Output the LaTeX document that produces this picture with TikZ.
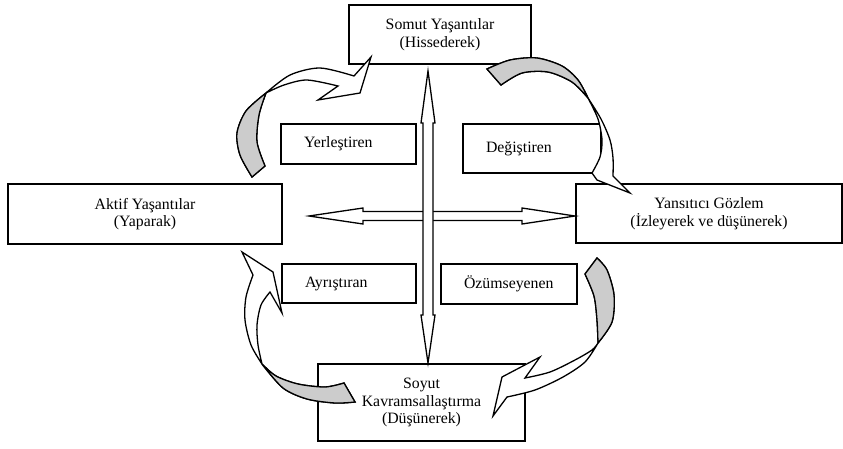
\documentclass[tikz,border=0pt]{standalone}
\usepackage{fontspec}
\setmainfont{Liberation Serif}
\usetikzlibrary{calc}
\definecolor{grayc}{RGB}{204,204,204}
\begin{document}
\begin{tikzpicture}[x=1pt,y=-1pt,
  bigbox/.style={draw, line width=1.5pt, align=center, inner sep=0pt, font=\fontsize{15.8}{17.5}\selectfont},
  smallbox/.style={draw, line width=1.5pt, align=left, inner ysep=0pt, inner xsep=23pt, font=\fontsize{15.8}{17.5}\selectfont},
  carrow/.style={line width=1.3pt, line join=miter, fill=white},
  garrow/.style={line width=1.3pt, line join=miter, fill=grayc},
  dbl/.style={line width=1.3pt, line join=miter, fill=white}
]
\useasboundingbox (0,0) rectangle (843,448);

% main boxes
\node[bigbox, minimum width=182pt, minimum height=59pt] (somut) at (440,34.5) {Somut Yaşantılar\\(Hissederek)};
\node[bigbox, minimum width=274pt, minimum height=60pt] (aktif) at (145,214) {Aktif Yaşantılar\\(Yaparak)};
\node[bigbox, minimum width=266pt, minimum height=59pt] (yans) at (709,213.5) {Yansıtıcı Gözlem\\(İzleyerek ve düşünerek)};
\node[bigbox, minimum width=207pt, minimum height=77pt] (soyut) at (421.5,402.5) {Soyut\\Kavramsallaştırma\\(Düşünerek)};

% small boxes
\node[smallbox, text width=89pt, minimum height=40pt] (yer) at (348.5,144) {Yerleştiren};
\node[smallbox, text width=92pt, minimum height=49pt] (deg) at (532,148.5) {Değiştiren};
\node[smallbox, text width=88pt, minimum height=39pt] (ayr) at (349,283.5) {Ayrıştıran};
\node[smallbox, text width=90pt, minimum height=40pt] (ozu) at (509,284) {Özümseyenen};

% horizontal double arrow
\coordinate (hl) at (309,216);
\coordinate (hr) at (575,216);
\draw[dbl] (hl) -- ($(hl)+(54,-8)$) -- ($(hl)+(54,-4.5)$) -- ($(hr)+(-53,-4.5)$) -- ($(hr)+(-53,-8)$) -- (hr)
  -- ($(hr)+(-53,8)$) -- ($(hr)+(-53,4.5)$) -- ($(hl)+(54,4.5)$) -- ($(hl)+(54,8)$) -- cycle;

% vertical double arrow
\coordinate (vt) at (428,71);
\coordinate (vb) at (428,363);
\draw[dbl] (vt) -- ($(vt)+(7,52)$) -- ($(vt)+(5,52)$) -- ($(vb)+(5,-48)$) -- ($(vb)+(7,-48)$) -- (vb)
  -- ($(vb)+(-7,-48)$) -- ($(vb)+(-5,-48)$) -- ($(vt)+(-5,52)$) -- ($(vt)+(-7,52)$) -- cycle;

% curved arrow 1 (Aktif -> Somut)
\draw[carrow] plot[smooth] coordinates {(252,177) (240,155) (237,133) (246,111) (266,93)}
  -- plot[smooth] coordinates {(266,93) (290,75) (320,68) (354,76)}
  -- (371,57) -- (360,93) -- (318,100)
  -- plot[smooth] coordinates {(338,86) (307,80) (284,85) (266,93)}
  -- plot[smooth] coordinates {(266,93) (259,115) (257,142) (265,166)} -- cycle;
\draw[garrow] plot[smooth] coordinates {(252,177) (240,155) (237,133) (246,111) (266,93)}
  -- plot[smooth] coordinates {(266,93) (259,115) (257,142) (265,166)} -- cycle;

% curved arrow 2 (Somut -> Yansitici)
\draw[carrow] plot[smooth] coordinates {(487,69) (510,60) (537,58) (562,66) (578,80) (588,98)}
  -- plot[smooth] coordinates {(588,98) (601,119) (610,140) (613,158) (613,176)}
  -- (630,193) -- (597,180)
  -- plot[smooth] coordinates {(592,173) (600,157) (602,140) (598,119) (588,98)}
  -- plot[smooth] coordinates {(588,98) (572,82) (548,72) (522,73) (501,85)} -- cycle;
\draw[garrow] plot[smooth] coordinates {(487,69) (510,60) (537,58) (562,66) (578,80) (588,98)}
  -- plot[smooth] coordinates {(588,98) (572,82) (548,72) (522,73) (501,85)} -- cycle;

% curved arrow 3 (Yansitici -> Soyut)
\draw[carrow] plot[smooth] coordinates {(597,258) (607,270) (614,295) (612,322) (598,343)}
  -- plot[smooth] coordinates {(598,343) (585,362) (563,377) (535,390) (507,397)}
  -- (493,416) -- (502,377) -- (540,357)
  -- plot[smooth] coordinates {(525,378) (550,372) (575,360) (592,350) (598,343)}
  -- plot[smooth] coordinates {(598,343) (597,320) (594,296) (585,274)} -- cycle;
\draw[garrow] plot[smooth] coordinates {(597,258) (607,270) (614,295) (612,322) (598,343)}
  -- plot[smooth] coordinates {(598,343) (597,320) (594,296) (585,274)} -- cycle;

% curved arrow 4 (Soyut -> Aktif)
\draw[carrow] plot[smooth] coordinates {(355,402) (335,403) (307,399) (283,388) (262,364)}
  -- plot[smooth] coordinates {(262,364) (251,345) (245,320) (246,297) (253,275)}
  -- (242,252) -- (273,272) -- (282,313)
  -- plot[smooth] coordinates {(270,292) (261,305) (257,325) (258,345) (262,364)}
  -- plot[smooth] coordinates {(262,364) (276,376) (298,384) (325,387) (344,383)} -- cycle;
\draw[garrow] plot[smooth] coordinates {(355,402) (335,403) (307,399) (283,388) (262,364)}
  -- plot[smooth] coordinates {(262,364) (276,376) (298,384) (325,387) (344,383)} -- cycle;

\end{tikzpicture}
\end{document}
